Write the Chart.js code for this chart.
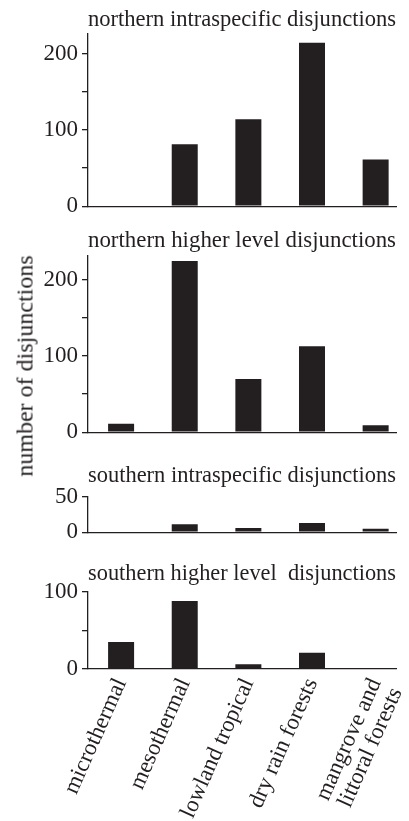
<!DOCTYPE html>
<html>
<head>
<meta charset="utf-8">
<script src="https://cdn.jsdelivr.net/npm/chart.js@4.4.0/dist/chart.umd.min.js"></script>
<style>
  html, body { margin: 0; padding: 0; background: #fff; }
  #wrap { position: relative; width: 409px; height: 821px; overflow: hidden; }
  #wrap canvas { position: absolute; left: 0; }
  #ylab {
    position: absolute; left: 25px; top: 366px; white-space: nowrap;
    font-family: 'Liberation Serif', serif; font-size: 24px; color: #231f20;
    transform: translate(-50%, -50%) rotate(-90deg);
  }
</style>
</head>
<body>
<div id="wrap">
  <canvas id="c1" width="409" height="224" style="top:0px"></canvas>
  <canvas id="c2" width="409" height="228" style="top:222px"></canvas>
  <canvas id="c3" width="409" height="90" style="top:460px"></canvas>
  <canvas id="c4" width="409" height="265" style="top:556px"></canvas>
  <div id="ylab">number of disjunctions</div>
</div>
<script>
    // categories (x) and the four panels' counts
    var categories = ['microthermal', 'mesothermal', 'lowland tropical', 'dry rain forests', ['mangrove and', 'littoral forests']];
    var northernIntra  = [0, 81, 114, 214, 61];
    var northernHigher = [11, 225, 70, 113, 9];
    var southernIntra  = [0, 11, 6, 13, 5];
    var southernHigher = [35, 88, 6, 21, 0];

    var titles = [
        'northern intraspecific disjunctions',
        'northern higher level disjunctions',
        'southern intraspecific disjunctions',
        'southern higher level  disjunctions'
    ];

    // y ticks per panel, and which of them carry a label
    var ticksBig = [0, 50, 100, 150, 200];
    var ticksSmall = [0, 50];
    var ticksMid = [0, 50, 100];
    var labelsBig = [0, 100, 200];
    var labelsSmall = [0, 50];
    var labelsMid = [0, 100];
    var yMax = [226, 232, 50, 100];

    const ink = '#231f20';
    const serif = 'Liberation Serif';
//////////////////////////////////////////////////////////////////////////////////////////////////////////////////

    function makePanel(canvasId, values, title, yTicks, yLabels, max, titlePad, padBottom, showX) {
        var ctx = document.getElementById(canvasId).getContext('2d');
        return new Chart(ctx, {
            type: 'bar',
            data: {
                datasets: [{
                    data: values.map(function (v, i) { return { x: i, y: v }; }),
                    backgroundColor: ink,
                    borderWidth: 0,
                    inflateAmount: 0,
                    barThickness: 26,
                }]
            },
            options: {
                responsive: false,
                animation: false,
                layout: { padding: { left: 0, right: 13, top: 0, bottom: padBottom } },
                plugins: {
                    legend: { display: false },
                    tooltip: { enabled: false },
                    title: {
                        display: true,
                        text: title,
                        align: 'start',
                        fullSize: false,
                        color: ink,
                        font: { family: serif, size: 23, weight: 'normal', lineHeight: 1.2 },
                        padding: titlePad,
                    }
                },
                scales: {
                    x: {
                        type: 'linear',
                        min: -0.52,
                        max: 4.32,
                        offset: false,
                        grid: { display: false, drawTicks: false },
                        border: { display: true, color: ink, width: 1.3 },
                        afterBuildTicks: function (s) {
                            s.ticks = categories.map(function (c, i) { return { value: i }; });
                        },
                        afterFit: function (s) {
                            s.paddingLeft = 0;
                            s.paddingRight = 0;
                            if (showX) s.height = 152;
                        },
                        ticks: {
                            display: showX,
                            autoSkip: false,
                            minRotation: 66,
                            maxRotation: 66,
                            padding: 6,
                            color: ink,
                            font: { family: serif, size: 23, lineHeight: 1.0 },
                            callback: function (value) { return categories[value]; }
                        }
                    },
                    y: {
                        min: 0,
                        max: max,
                        afterBuildTicks: function (s) {
                            s.ticks = yTicks.map(function (v) { return { value: v }; });
                        },
                        afterFit: function (s) { s.width = 88; },
                        grid: { display: true, drawOnChartArea: false, drawTicks: true, tickLength: 6, color: ink, lineWidth: 1.3 },
                        border: { display: true, color: ink, width: 1.3 },
                        ticks: {
                            padding: 4,
                            color: ink,
                            font: { family: serif, size: 23 },
                            callback: function (value) { return yLabels.indexOf(value) >= 0 ? value : ''; }
                        }
                    }
                }
            }
        });
    }

    var chart1 = makePanel('c1', northernIntra, titles[0], ticksBig, labelsBig, yMax[0], { top: 6, bottom: 0 }, 16, false);
    var chart2 = makePanel('c2', northernHigher, titles[1], ticksBig, labelsBig, yMax[1], { top: 5, bottom: 1 }, 16, false);
    var chart3 = makePanel('c3', southernIntra, titles[2], ticksSmall, labelsSmall, yMax[2], { top: 2, bottom: 7 }, 16, false);
    var chart4 = makePanel('c4', southernHigher, titles[3], ticksMid, labelsMid, yMax[3], { top: 4, bottom: 4 }, 0, true);
</script>
</body>
</html>
